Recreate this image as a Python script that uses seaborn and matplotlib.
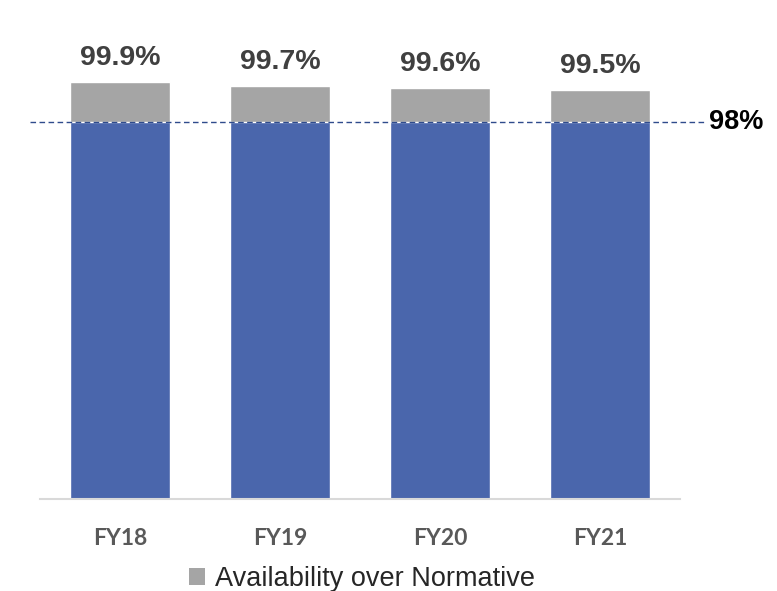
import pandas as pd
import matplotlib.pyplot as plt
import seaborn as sns
from matplotlib.patches import Patch

years = ['FY18', 'FY19', 'FY20', 'FY21']
availability = [99.9, 99.7, 99.6, 99.5]
normative = [98, 98, 98, 98]

df = pd.DataFrame({'year': years, 'availability': availability, 'normative': normative})

blue = '#4A66AC'
grey = '#A5A5A5'

sns.set_theme(style='white')
plt.rcParams['font.family'] = ['Liberation Sans', 'DejaVu Sans']

fig = plt.figure(figsize=(7.77, 5.91), dpi=100)
ax = fig.add_axes([40 / 777, (591 - 499) / 591, 640 / 777, 419.3 / 591])

# total bar (grey) then the normative part drawn over it in blue
sns.barplot(data=df, x='year', y='availability', color=grey, width=0.625,
            saturation=1, ax=ax)
sns.barplot(data=df, x='year', y='normative', color=blue, width=0.625,
            saturation=1, ax=ax)

ax.set_ylim(80, 100)
ax.set_xlim(-0.5, 3.5)
ax.set_xlabel('')
ax.set_ylabel('')
ax.set_yticks([])
for s in ['top', 'right', 'left']:
    ax.spines[s].set_visible(False)
ax.spines['bottom'].set_color('#D9D9D9')
ax.spines['bottom'].set_linewidth(1.5)
ax.tick_params(axis='x', length=0, pad=21)
for lbl in ax.get_xticklabels():
    lbl.set_fontfamily('Lato')
    lbl.set_fontweight('bold')
    lbl.set_fontsize(16.5)
    lbl.set_color('#595959')

for i, v in enumerate(availability):
    ax.annotate(f'{v}%', (i, v), xytext=(0, 8), textcoords='offset points',
                ha='center', va='bottom', fontsize=20.5, fontweight='bold',
                color='#404040')

# 98% normative line
ax.axhline(98, xmin=-10 / 640, xmax=665 / 640, color='#2F4B8C', lw=1,
           ls=(0, (4, 2.5)), clip_on=False)
ax.text(3.5 + 29 / 160, 98, '98%', ha='left', va='center', fontsize=19.5,
        fontweight='bold', color='black')

fig.legend(handles=[Patch(facecolor=grey, edgecolor='none')],
           labels=['Availability over Normative'], loc='center',
           bbox_to_anchor=(362 / 777, 1 - 579 / 591), frameon=False,
           fontsize=19.5, handlelength=0.6, handleheight=0.6, handletextpad=0.35)

fig.savefig('out.png', dpi=100)
